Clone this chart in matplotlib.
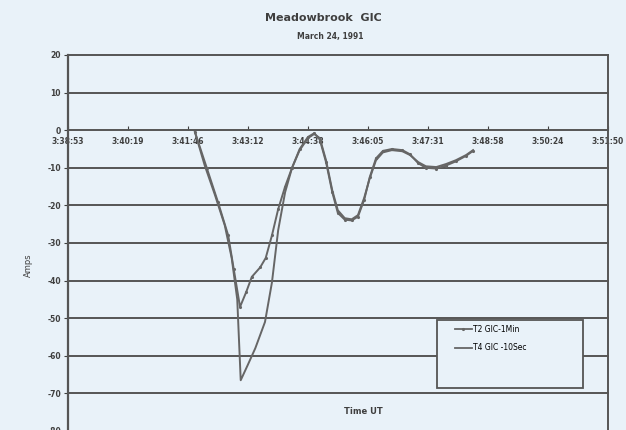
import matplotlib.pyplot as plt
from matplotlib.patches import Rectangle
from matplotlib.lines import Line2D

plt.rcParams['axes.unicode_minus'] = False

# 时间轴：以 3:38:53 为零点的秒数
tick_labels = ['3:38:53', '3:40:19', '3:41:46', '3:43:12', '3:44:38',
               '3:46:05', '3:47:31', '3:48:58', '3:50:24', '3:51:50']
tick_step = 86.5

# T4 GIC 10秒数据
t4_sec = [183, 197, 212, 226, 236, 244, 249, 259, 270, 284, 294, 303, 313, 323,
          334, 346, 355, 363, 372, 381, 389, 399, 409, 418, 427, 435, 444, 454,
          467, 482, 493, 505, 516, 531, 545, 559, 574, 584]
t4_amps = [-0.5, -9.3, -17.3, -25.3, -34, -45, -66.5, -62.5, -58, -51, -40.5,
           -26.6, -16.5, -10, -5.3, -2.1, -1, -2.1, -8, -16, -21.3, -23.4,
           -23.7, -22.6, -18, -12.8, -8, -5.9, -5.3, -5.6, -6.6, -8.5, -9.6,
           -9.8, -9, -8, -6.6, -5.3]

# T2 GIC 1分钟数据
t2_sec = [183, 200, 216, 231, 239, 248, 257, 265, 277, 285, 294, 303, 313, 323,
          334, 346, 355, 363, 372, 381, 389, 399, 409, 418, 427, 435, 444, 454,
          467, 482, 493, 505, 516, 531, 545, 559, 574, 584]
t2_amps = [-0.5, -10, -19, -28, -37, -47, -43, -39, -36.5, -34, -28, -21, -15,
           -10, -5, -1.8, -0.8, -2.5, -8.5, -16.5, -22, -23.8, -24, -23, -18.5,
           -12.5, -7.5, -5.5, -5, -5.3, -6.4, -8.8, -10, -10.2, -9.4, -8.3,
           -6.8, -5.5]

bg = '#e9f2f9'
grey = '#666666'
dark = '#555555'
txt = '#3f3f3f'

fig = plt.figure(figsize=(6.26, 4.30), dpi=100, facecolor=bg)
ax = fig.add_axes([68/626, -1/430, 540/626, 376/430], facecolor=bg)

ax.plot(t2_sec, t2_amps, color=grey, lw=1.4, marker='.', ms=2.5,
        label='T2 GIC-1Min')
ax.plot(t4_sec, t4_amps, color=grey, lw=1.4, label='T4 GIC -10Sec')

ax.set_xlim(0, 9 * tick_step)
ax.set_ylim(-80, 20)
ax.set_yticks(range(-80, 21, 10))
ax.set_xticks([i * tick_step for i in range(len(tick_labels))])
ax.set_xticklabels(tick_labels)

for v in range(-70, 21, 10):
    if v != 0:
        ax.axhline(v, color=dark, lw=1.4, zorder=0, clip_on=False)

ax.spines['bottom'].set_position(('data', 0))
ax.spines['bottom'].set_color(dark)
ax.spines['bottom'].set_linewidth(1.4)
ax.spines['left'].set_color(dark)
ax.spines['left'].set_linewidth(1.6)
ax.spines['right'].set_color(dark)
ax.spines['right'].set_linewidth(1.4)
ax.spines['top'].set_visible(False)

ax.tick_params(axis='x', direction='in', length=3, pad=5, labelsize=5.5,
               colors=txt)
ax.tick_params(axis='y', direction='out', length=3, pad=2, labelsize=5.5,
               colors=txt)
for lab in ax.get_xticklabels() + ax.get_yticklabels():
    lab.set_fontweight('bold')

fig.text(28/626, 1 - 265/430, 'Amps', rotation=90, ha='center', va='center',
         fontsize=6, color=txt)
fig.text(363/626, 1 - 412/430, 'Time UT', ha='center', va='center',
         fontsize=6, fontweight='bold', color=txt)

fig.text(323/626, 1 - 18/430, 'Meadowbrook  GIC', ha='center', va='center',
         fontsize=8, fontweight='bold', color=txt)
fig.text(330/626, 1 - 37/430, 'March 24, 1991', ha='center', va='center',
         fontsize=5.5, fontweight='bold', color=txt)

# 图例框
ax.add_patch(Rectangle((369/540, (431-388)/376), 146/540, 68/376,
                       transform=ax.transAxes, facecolor=bg, edgecolor=dark,
                       lw=1.3, zorder=5))
handles = [Line2D([], [], color=grey, lw=1.3, marker='.', ms=2.5, markevery=[0]),
           Line2D([], [], color=grey, lw=1.3)]
ax.legend(handles, ['T2 GIC-1Min', 'T4 GIC -10Sec'], loc='upper left',
          bbox_to_anchor=((452-68)/540, (431-322)/376), frameon=False,
          fontsize=5.5, handlelength=2.2, handletextpad=0.1, labelspacing=1.2,
          borderaxespad=0).set_zorder(6)

fig.savefig('out.png', dpi=100, facecolor=bg)
